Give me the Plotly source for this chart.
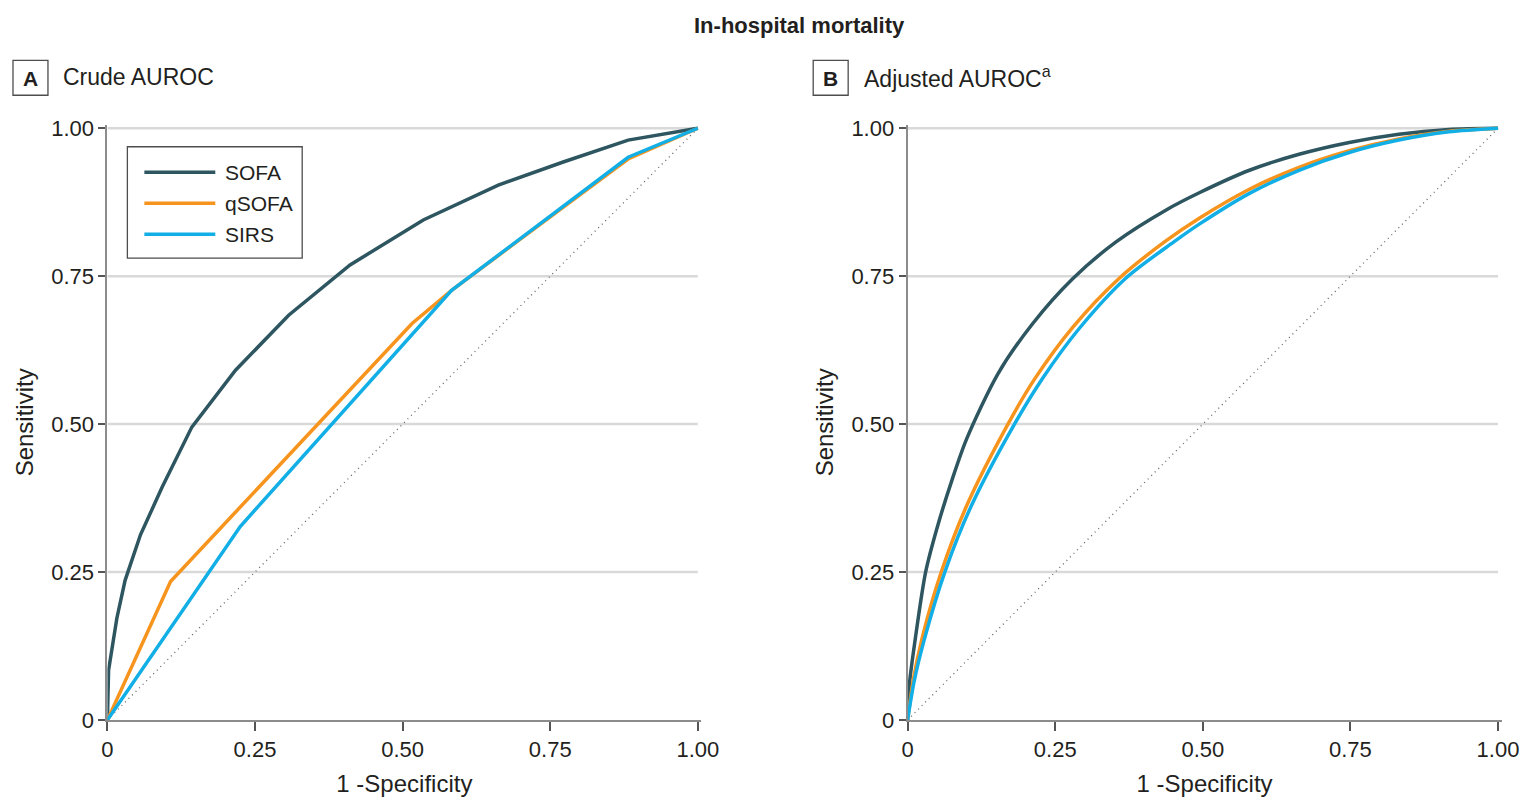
import plotly.graph_objects as go

# ---------------- data ----------------
SERIES_NAMES = ["SOFA", "qSOFA", "SIRS"]

# Panel A: crude ROC curves (1 - specificity, sensitivity)
A_SOFA_X = [0, 0.0005, 0.002, 0.016, 0.030, 0.056, 0.093, 0.143, 0.217, 0.307, 0.411, 0.535, 0.662, 0.772, 0.882, 1.0]
A_SOFA_Y = [0, 0.034, 0.084, 0.172, 0.236, 0.313, 0.394, 0.495, 0.591, 0.684, 0.769, 0.845, 0.904, 0.943, 0.980, 1.0]
A_QSOFA_X = [0, 0.107, 0.516, 0.583, 0.851, 0.882, 1.0]
A_QSOFA_Y = [0, 0.234, 0.670, 0.726, 0.925, 0.948, 1.0]
A_SIRS_X = [0, 0.225, 0.583, 0.851, 0.882, 1.0]
A_SIRS_Y = [0, 0.327, 0.726, 0.929, 0.951, 1.0]

# Panel B: adjusted ROC curves
B_SOFA_X = [0, 0.003, 0.012, 0.0305, 0.05, 0.075, 0.10, 0.153, 0.212, 0.280, 0.353, 0.438, 0.494, 0.579, 0.663, 0.748, 0.832, 0.917, 1.0]
B_SOFA_Y = [0, 0.06, 0.13, 0.25, 0.325, 0.405, 0.475, 0.585, 0.670, 0.746, 0.808, 0.862, 0.891, 0.929, 0.956, 0.976, 0.990, 0.998, 1.0]
B_QSOFA_X = [0, 0.01, 0.025, 0.057, 0.10, 0.17, 0.215, 0.280, 0.359, 0.438, 0.494, 0.579, 0.663, 0.748, 0.832, 0.917, 1.0]
B_QSOFA_Y = [0, 0.07, 0.14, 0.25, 0.362, 0.50, 0.576, 0.664, 0.747, 0.810, 0.848, 0.897, 0.934, 0.962, 0.982, 0.995, 1.0]
B_SIRS_X = [0, 0.011, 0.028, 0.063, 0.107, 0.181, 0.229, 0.291, 0.370, 0.451, 0.494, 0.579, 0.663, 0.748, 0.832, 0.917, 1.0]
B_SIRS_Y = [0, 0.065, 0.135, 0.25, 0.36, 0.50, 0.578, 0.662, 0.747, 0.808, 0.838, 0.890, 0.929, 0.959, 0.980, 0.994, 1.0]

DIAG = [0, 1]
TICK_VALS = [0, 0.25, 0.5, 0.75, 1.0]
TICK_TEXT = ["0", "0.25", "0.50", "0.75", "1.00"]
GRID_VALS = [0.25, 0.5, 0.75, 1.0]

TITLE = "In-hospital mortality"
PANEL_LETTERS = ["A", "B"]
PANEL_TITLES = ["Crude AUROC", "Adjusted AUROC<sup>a</sup>"]
X_TITLE = "1 -Specificity"
Y_TITLE = "Sensitivity"

# ---------------- style / layout ----------------
W, H = 1541, 811              # figure size (page body margin removed)
# observed mapping page px -> photo px
SX, OX = 0.9854, 5.5
SY, OY = 0.9733, 8.7
FONT = "Liberation Sans, Arial, sans-serif"
TXT = "#231f20"
COLORS = {"SOFA": "#2e5660", "qSOFA": "#f7941d", "SIRS": "#12aee6"}
LW = 3.5


def fx(X):
    return ((X - OX) / SX) / W


def fy(Y):
    return 1 - ((Y - OY) / SY) / H


PAD = 0.006
Y0_PX, Y1_PX = 720, 128
A_X0_PX, A_X1_PX = 107, 698
B_X0_PX, B_X1_PX = 908, 1499
ydom = [fy(Y0_PX), fy(Y1_PX - PAD * (Y0_PX - Y1_PX))]
adom = [fx(A_X0_PX), fx(A_X1_PX + PAD * (A_X1_PX - A_X0_PX))]
bdom = [fx(B_X0_PX), fx(B_X1_PX + PAD * (B_X1_PX - B_X0_PX))]

fig = go.Figure()

panel_data = {
    "A": [(A_SOFA_X, A_SOFA_Y), (A_QSOFA_X, A_QSOFA_Y), (A_SIRS_X, A_SIRS_Y)],
    "B": [(B_SOFA_X, B_SOFA_Y), (B_QSOFA_X, B_QSOFA_Y), (B_SIRS_X, B_SIRS_Y)],
}
axes = {"A": ("x", "y"), "B": ("x2", "y2")}

for p in PANEL_LETTERS:
    xa, ya = axes[p]
    fig.add_trace(go.Scatter(x=DIAG, y=DIAG, mode="lines", xaxis=xa, yaxis=ya,
                             line=dict(color="#666666", width=1.3, dash="1px,4px"),
                             showlegend=False, hoverinfo="skip"))
    for name, (xs, ys) in zip(SERIES_NAMES, panel_data[p]):
        fig.add_trace(go.Scatter(
            x=xs, y=ys, mode="lines", name=name, xaxis=xa, yaxis=ya,
            line=dict(color=COLORS[name], width=LW,
                      shape="spline" if p == "B" else "linear", smoothing=0.8),
            showlegend=False))

shapes = []
for xr, yr in [("x", "y"), ("x2", "y2")]:
    for g in GRID_VALS:
        shapes.append(dict(type="line", xref=xr, yref=yr, x0=0, x1=1, y0=g, y1=g,
                           line=dict(color="#d9d9d9", width=2.5), layer="below"))

annotations = []
annotations.append(dict(text="<b>" + TITLE + "</b>", x=fx(800), y=fy(25), xref="paper", yref="paper",
                        xanchor="center", yanchor="middle", showarrow=False,
                        font=dict(size=22, color=TXT, family=FONT)))

panel_boxes = {"A": (12.5, 47.5, 61), "B": (813.5, 848.5, 862)}
for p, title in zip(PANEL_LETTERS, PANEL_TITLES):
    bx0, bx1, tx = panel_boxes[p]
    shapes.append(dict(type="rect", xref="paper", yref="paper", x0=fx(bx0), x1=fx(bx1),
                       y0=fy(95), y1=fy(60), line=dict(color="#4d4d4d", width=1.3)))
    annotations.append(dict(text="<b>" + p + "</b>", x=fx((bx0 + bx1) / 2), y=fy(78), xref="paper",
                            yref="paper", xanchor="center", yanchor="middle", showarrow=False,
                            font=dict(size=21, color=TXT, family=FONT)))
    annotations.append(dict(text=title, x=fx(tx), y=fy(77), xref="paper", yref="paper",
                            xanchor="left", yanchor="middle", showarrow=False,
                            font=dict(size=23, color=TXT, family=FONT)))

# legend box (panel A)
shapes.append(dict(type="rect", xref="paper", yref="paper", x0=fx(127), x1=fx(302),
                   y0=fy(258), y1=fy(146.5), line=dict(color="#4d4d4d", width=1.3),
                   fillcolor="white"))
for name, ly in zip(SERIES_NAMES, [172, 203, 234]):
    shapes.append(dict(type="line", xref="paper", yref="paper", x0=fx(144), x1=fx(215),
                       y0=fy(ly), y1=fy(ly), line=dict(color=COLORS[name], width=LW)))
    annotations.append(dict(text=name, x=fx(223), y=fy(ly), xref="paper", yref="paper",
                            xanchor="left", yanchor="middle", showarrow=False,
                            font=dict(size=21, color=TXT, family=FONT)))

axis_common = dict(range=[0, 1 + PAD], tickvals=TICK_VALS, ticktext=TICK_TEXT,
                   showline=True, linecolor="#8c8c8c", linewidth=2, ticks="outside",
                   tickwidth=1.5, tickcolor="#555555", showgrid=False, zeroline=False,
                   tickfont=dict(size=22, color=TXT, family=FONT), fixedrange=True)

fig.update_layout(
    width=W, height=H, margin=dict(l=0, r=0, t=0, b=0), autosize=False,
    paper_bgcolor="white", plot_bgcolor="white",
    font=dict(family=FONT, color=TXT),
    xaxis=dict(domain=adom, anchor="y", ticklen=9,
               title=dict(text=X_TITLE, font=dict(size=24, color=TXT, family=FONT), standoff=14),
               **axis_common),
    yaxis=dict(domain=ydom, anchor="x", ticklen=7,
               title=dict(text=Y_TITLE, font=dict(size=24, color=TXT, family=FONT), standoff=11),
               **axis_common),
    xaxis2=dict(domain=bdom, anchor="y2", ticklen=9,
                title=dict(text=X_TITLE, font=dict(size=24, color=TXT, family=FONT), standoff=14),
                **axis_common),
    yaxis2=dict(domain=ydom, anchor="x2", ticklen=7,
                title=dict(text=Y_TITLE, font=dict(size=24, color=TXT, family=FONT), standoff=11),
                **axis_common),
    shapes=shapes,
    annotations=annotations,
)

fig.write_html("out.html", config={"displayModeBar": False, "responsive": False},
               post_script="document.body.style.margin='0px';document.body.style.overflow='hidden';")
